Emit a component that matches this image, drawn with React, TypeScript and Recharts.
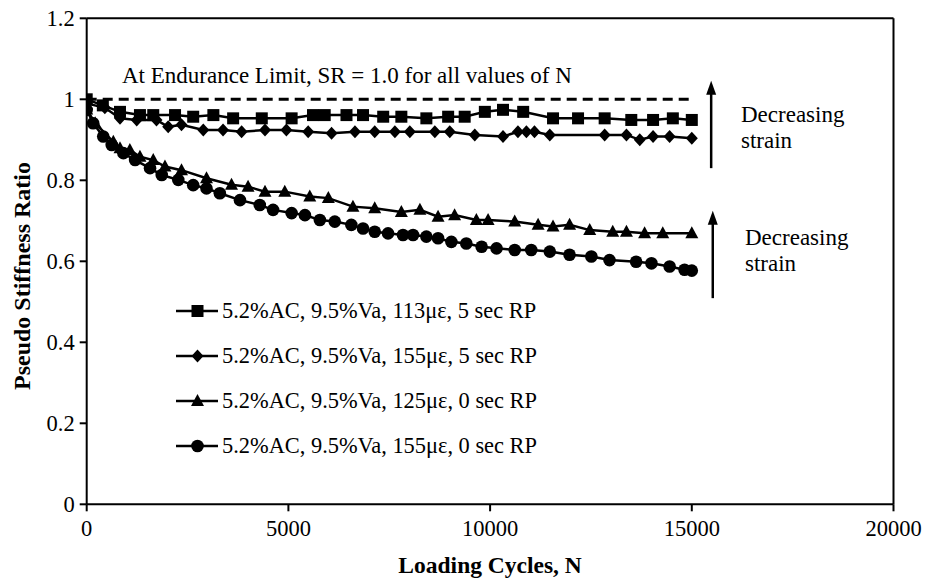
import React from 'react';
import { LineChart, Line, XAxis, YAxis, ReferenceLine, Legend } from 'recharts';

const xTicks = [0, 5000, 10000, 15000, 20000];
const yTicks = [0, 0.2, 0.4, 0.6, 0.8, 1, 1.2];
const yTickLabels = ['0', '0.2', '0.4', '0.6', '0.8', '1', '1.2'];

const seriesNames = [
  '5.2%AC, 9.5%Va, 113\u03bc\u03b5, 5 sec RP',
  '5.2%AC, 9.5%Va, 155\u03bc\u03b5, 5 sec RP',
  '5.2%AC, 9.5%Va, 125\u03bc\u03b5, 0 sec RP',
  '5.2%AC, 9.5%Va, 155\u03bc\u03b5, 0 sec RP',
];

const sq113N = [0, 400, 825, 1320, 1650, 2190, 2640, 3140, 3630, 4340, 5080, 5610, 5900, 6440, 6850, 7350, 7800, 8420, 8960, 9370, 9870, 10320, 10820, 11560, 12180, 12840, 13500, 14040, 14530, 15000];
const sq113SR = [1.0, 0.985, 0.969, 0.961, 0.961, 0.961, 0.957, 0.961, 0.953, 0.953, 0.953, 0.961, 0.961, 0.961, 0.961, 0.957, 0.957, 0.953, 0.957, 0.957, 0.969, 0.974, 0.969, 0.953, 0.953, 0.953, 0.949, 0.949, 0.953, 0.949];

const dm155N = [0, 450, 825, 1240, 1730, 2020, 2350, 2890, 3380, 3840, 4420, 4950, 5490, 6070, 6650, 7140, 7640, 8010, 8630, 9000, 9620, 10320, 10690, 10900, 11100, 11480, 12840, 13380, 13710, 14040, 14450, 15000];
const dm155SR = [0.99, 0.979, 0.953, 0.949, 0.949, 0.932, 0.937, 0.924, 0.924, 0.92, 0.924, 0.924, 0.92, 0.916, 0.92, 0.92, 0.92, 0.92, 0.92, 0.92, 0.912, 0.908, 0.92, 0.92, 0.92, 0.912, 0.912, 0.912, 0.9, 0.908, 0.908, 0.904];

const tr125N = [0, 210, 660, 825, 1070, 1320, 1650, 1940, 2350, 2970, 3590, 4000, 4420, 4910, 5530, 5990, 6600, 7140, 7800, 8260, 8710, 9120, 9660, 9950, 10610, 11190, 11560, 11970, 12470, 13040, 13380, 13830, 14280, 15000];
const tr125SR = [0.975, 0.941, 0.895, 0.879, 0.875, 0.858, 0.85, 0.834, 0.825, 0.805, 0.789, 0.784, 0.772, 0.772, 0.76, 0.756, 0.735, 0.731, 0.722, 0.727, 0.71, 0.714, 0.702, 0.702, 0.698, 0.69, 0.686, 0.69, 0.677, 0.673, 0.673, 0.669, 0.669, 0.669];

const ci155N = [0, 160, 410, 620, 910, 1200, 1570, 1860, 2270, 2640, 2970, 3300, 3800, 4290, 4620, 5080, 5410, 5780, 6150, 6560, 6850, 7140, 7470, 7840, 8090, 8420, 8710, 9040, 9410, 9790, 10160, 10610, 11020, 11480, 11970, 12510, 12960, 13620, 14000, 14450, 14820, 15000];
const ci155SR = [0.974, 0.941, 0.908, 0.887, 0.867, 0.85, 0.83, 0.813, 0.801, 0.788, 0.78, 0.768, 0.751, 0.739, 0.727, 0.719, 0.714, 0.702, 0.698, 0.69, 0.681, 0.673, 0.669, 0.665, 0.665, 0.661, 0.657, 0.648, 0.644, 0.636, 0.632, 0.628, 0.628, 0.624, 0.616, 0.612, 0.603, 0.599, 0.595, 0.587, 0.579, 0.577];

const limitN = [0, 15000];
const limitSR = [1, 1];

const zip = (ns: number[], vs: number[]) => ns.map((n, i) => ({ n, sr: vs[i] }));

const sqData = zip(sq113N, sq113SR);
const dmData = zip(dm155N, dm155SR);
const trData = zip(tr125N, tr125SR);
const ciData = zip(ci155N, ci155SR);
const limitData = zip(limitN, limitSR);

const FONT = '"Liberation Serif", "Times New Roman", serif';

type Shape = 'square' | 'diamond' | 'triangle' | 'circle';

const marker = (shape: Shape, cx: number, cy: number, key?: string) => {
  switch (shape) {
    case 'square':
      return <rect key={key} x={cx - 6} y={cy - 6} width={12} height={12} fill="#000" />;
    case 'diamond':
      return <polygon key={key} points={`${cx},${cy - 6.5} ${cx + 6},${cy} ${cx},${cy + 6.5} ${cx - 6},${cy}`} fill="#000" />;
    case 'triangle':
      return <polygon key={key} points={`${cx},${cy - 7} ${cx + 6.5},${cy + 5} ${cx - 6.5},${cy + 5}`} fill="#000" />;
    default:
      return <circle key={key} cx={cx} cy={cy} r={6.3} fill="#000" />;
  }
};

const dotFor = (shape: Shape) => (props: any) => {
  const { cx, cy, index } = props;
  if (cx == null || cy == null) return <g key={`${shape}-${index}`} />;
  return marker(shape, cx, cy, `${shape}-${index}`);
};

const shapes: Shape[] = ['square', 'diamond', 'triangle', 'circle'];

const Arrow = (props: any) => {
  const { x1, y1, x2, y2 } = props;
  if (x1 == null) return null;
  const x = (x1 + x2) / 2;
  const top = Math.min(y1, y2);
  const bottom = Math.max(y1, y2);
  return (
    <g>
      <line x1={x} y1={bottom} x2={x} y2={top + 10} stroke="#000" strokeWidth={2.5} />
      <polygon points={`${x},${top} ${x - 5},${top + 14} ${x + 5},${top + 14}`} fill="#000" />
    </g>
  );
};

const LegendContent = () => (
  <div style={{ fontFamily: FONT, fontSize: 22.4, color: '#000' }}>
    {seriesNames.map((name, i) => (
      <div key={name} style={{ height: 45, display: 'flex', alignItems: 'center', whiteSpace: 'nowrap' }}>
        <svg width={42} height={16} style={{ display: 'block' }}>
          <line x1={0} y1={8} x2={42} y2={8} stroke="#000" strokeWidth={2.5} />
          {marker(shapes[i], 21.5, 8)}
        </svg>
        <span style={{ marginLeft: 4, lineHeight: '22px' }}>{name}</span>
      </div>
    ))}
  </div>
);

export default function App() {
  return (
    <div style={{ position: 'absolute', left: 0, top: 0, width: 925, height: 583, background: '#fff' }}>
      <LineChart
        width={925}
        height={583}
        margin={{ top: 18.3, right: 31.5, left: 0, bottom: 0 }}
      >
        <XAxis
          dataKey="n"
          type="number"
          domain={[0, 20000]}
          ticks={xTicks}
          allowDataOverflow
          height={78.7}
          stroke="#000"
          strokeWidth={2}
          tickSize={7}
          tickMargin={9}
          tick={{ fontFamily: FONT, fontSize: 22.5, fill: '#000' }}
          label={{
            value: 'Loading Cycles, N',
            position: 'insideBottom',
            offset: 10,
            style: { fontFamily: FONT, fontSize: 23.5, fontWeight: 'bold', fill: '#000' },
          }}
        />
        <YAxis
          type="number"
          domain={[0, 1.2]}
          ticks={yTicks}
          allowDataOverflow
          width={86.7}
          stroke="#000"
          strokeWidth={2}
          tickSize={7}
          tickMargin={5}
          tickFormatter={(v: number, i: number) => yTickLabels[i] ?? String(v)}
          tick={{ fontFamily: FONT, fontSize: 22.5, fill: '#000' }}
          label={{
            content: () => (
              <text
                x={22}
                y={276}
                transform="rotate(-90 22 276)"
                textAnchor="middle"
                dominantBaseline="central"
                style={{ fontFamily: FONT, fontSize: 24, fontWeight: 'bold', fill: '#000' }}
              >
                Pseudo Stiffness Ratio
              </text>
            ),
          }}
        />
        <ReferenceLine y={1.2} stroke="#000" strokeWidth={2} />
        <ReferenceLine x={20000} stroke="#000" strokeWidth={2} />
        <ReferenceLine
          segment={[{ x: 15480, y: 0.83 }, { x: 15480, y: 1.046 }]}
          shape={<Arrow />}
        />
        <ReferenceLine
          segment={[{ x: 15520, y: 0.509 }, { x: 15520, y: 0.725 }]}
          shape={<Arrow />}
        />
        <Line
          data={limitData}
          dataKey="sr"
          type="linear"
          stroke="#000"
          strokeWidth={3}
          strokeDasharray="10 6"
          dot={false}
          activeDot={false}
          legendType="none"
          isAnimationActive={false}
        />
        <Line data={sqData} dataKey="sr" name={seriesNames[0]} type="linear" stroke="#000" strokeWidth={2.5} dot={dotFor('square')} activeDot={false} isAnimationActive={false} />
        <Line data={dmData} dataKey="sr" name={seriesNames[1]} type="linear" stroke="#000" strokeWidth={2.5} dot={dotFor('diamond')} activeDot={false} isAnimationActive={false} />
        <Line data={trData} dataKey="sr" name={seriesNames[2]} type="linear" stroke="#000" strokeWidth={2.5} dot={dotFor('triangle')} activeDot={false} isAnimationActive={false} />
        <Line data={ciData} dataKey="sr" name={seriesNames[3]} type="linear" stroke="#000" strokeWidth={2.5} dot={dotFor('circle')} activeDot={false} isAnimationActive={false} />
        <Legend
          layout="vertical"
          align="center"
          verticalAlign="middle"
          content={<LegendContent />}
          wrapperStyle={{ position: 'absolute', left: 176, top: 288.5, width: 'auto', height: 'auto' }}
        />
      </LineChart>
      <svg
        width={925}
        height={583}
        style={{ position: 'absolute', left: 0, top: 0, pointerEvents: 'none' }}
      >
        <g style={{ fontFamily: FONT, fill: '#000' }}>
          <text x={122} y={83} fontSize={23}>At Endurance Limit, SR = 1.0 for all values of N</text>
          <text x={741} y={122} fontSize={23}>Decreasing</text>
          <text x={741} y={148} fontSize={23}>strain</text>
          <text x={745} y={245} fontSize={23}>Decreasing</text>
          <text x={745} y={271} fontSize={23}>strain</text>
        </g>
      </svg>
    </div>
  );
}
